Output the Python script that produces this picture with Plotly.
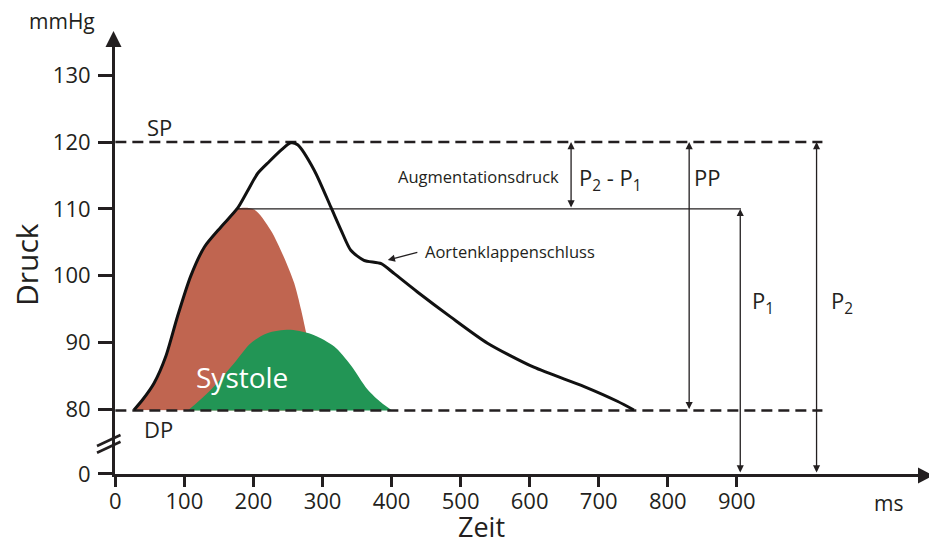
import plotly.graph_objects as go

# ---------------- data ----------------
# aortic pressure curve (ms, mmHg)
curve_t = [27, 40, 56, 73, 90, 109, 129, 153, 177, 191, 206, 223, 240, 254, 264, 288, 312, 327, 341, 360, 385, 404, 437, 486, 539, 606, 679, 727, 751]
curve_p = [79.9, 81.5, 83.9, 87.9, 93.9, 99.9, 104.3, 107.3, 110.1, 112.6, 115.3, 117.1, 118.8, 119.9, 119.6, 115.8, 110.3, 106.8, 103.8, 102.3, 101.8, 100.3, 97.6, 93.8, 89.9, 86.3, 83.4, 81.2, 79.9]

# forward (red) wave outline
red_t = [27, 40, 56, 73, 90, 109, 129, 153, 177, 201, 225, 244, 259, 269, 276, 285, 295, 300]
red_p = [79.9, 81.5, 83.9, 87.9, 93.9, 99.9, 104.3, 107.3, 110.0, 109.9, 106.8, 102.8, 98.9, 94.9, 91.6, 87.0, 82.0, 79.8]

# systole (green) outline
green_t = [105, 138, 172, 196, 220, 254, 288, 317, 341, 365, 385, 401]
green_p = [79.8, 82.9, 86.9, 89.9, 91.4, 91.9, 91.1, 89.4, 86.6, 83.0, 81.0, 79.8]

SP = 120.0
DP = 79.8
P1_level = 110.0
ref_line_end = 1024      # ms where SP / DP dashed lines end
p1_line_start, p1_line_end = 177, 906

aug_x, pp_x, p1_x, p2_x = 660, 831, 905, 1015.5

y_bottom = 70.31
y_top = 134.54
x_left, x_right = -0.5, 1165.3

x_ticks = [0, 100, 200, 300, 400, 500, 600, 700, 800, 900]
x_ticktext = [str(v) for v in x_ticks]
y_tickvals = [70.32, 80, 90, 100, 110, 120, 130]
y_ticktext = ["0", "80", "90", "100", "110", "120", "130"]

RED = "rgb(192,101,80)"
GREEN = "rgb(34,149,85)"
INK = "#231F20"
FONT = "Open Sans"

# layout geometry
L, R, T, B = 115, 9, 45, 73
W, H = 929, 547
PW, PH = W - L - R, H - T - B


def px(xp):
    return (xp - L) / PW


def py(yp):
    return (H - B - yp) / PH


fig = go.Figure()

fig.add_trace(go.Scatter(x=red_t, y=red_p, mode="lines", fill="toself", fillcolor=RED,
                         line=dict(width=0, shape="spline", smoothing=0.8, color=RED), hoverinfo="skip"))
fig.add_trace(go.Scatter(x=green_t, y=green_p, mode="lines", fill="toself", fillcolor=GREEN,
                         line=dict(width=0, shape="spline", smoothing=0.8, color=GREEN), hoverinfo="skip"))

# reference lines
fig.add_trace(go.Scatter(x=[0, ref_line_end], y=[SP, SP], mode="lines",
                         line=dict(color=INK, width=2.5, dash="11px,6px"), hoverinfo="skip"))
fig.add_trace(go.Scatter(x=[0, ref_line_end], y=[DP, DP], mode="lines",
                         line=dict(color=INK, width=2.5, dash="11px,6px"), hoverinfo="skip"))
fig.add_trace(go.Scatter(x=[p1_line_start, p1_line_end], y=[P1_level, P1_level], mode="lines",
                         line=dict(color=INK, width=1.4), hoverinfo="skip"))

# pressure curve
fig.add_trace(go.Scatter(x=curve_t, y=curve_p, mode="lines",
                         line=dict(color="#111111", width=3, shape="spline", smoothing=0.7), hoverinfo="skip"))

annotations = []


def darrow(x, y0, y1):
    annotations.append(dict(x=x, y=y1, ax=x, ay=y0, xref="x", yref="y", axref="x", ayref="y",
                            text="", showarrow=True, arrowside="end+start", arrowhead=2, startarrowhead=2,
                            arrowsize=1.1, startarrowsize=1.1, arrowwidth=1.3, arrowcolor=INK,
                            standoff=0, startstandoff=0))


darrow(aug_x, P1_level, SP)
darrow(pp_x, DP, SP)
darrow(p1_x, y_bottom, P1_level)
darrow(p2_x, y_bottom, SP)

# Aortenklappenschluss arrow
annotations.append(dict(x=394.6, y=102.35, ax=439.5, ay=103.55, xref="x", yref="y", axref="x", ayref="y",
                        text="", showarrow=True, arrowhead=2, arrowsize=1.1, arrowwidth=1.3,
                        arrowcolor=INK, standoff=0))


def txt(x, y, s, size, xanchor="center", color=INK, xref="x", yref="y", angle=0, yanchor="middle"):
    annotations.append(dict(x=x, y=y, text=s, xref=xref, yref=yref, showarrow=False,
                            xanchor=xanchor, yanchor=yanchor, textangle=angle,
                            font=dict(family=FONT, size=size, color=color)))


txt(64.4, 122.26, "SP", 22)
txt(63, 77.05, "DP", 22)
txt(183, 84.8, "Systole", 28, color="white")
txt(526, 114.8, "Augmentationsdruck", 16.5)
txt(668, 114.5, "P<sub>2</sub> - P<sub>1</sub>", 22, xanchor="left")
txt(445, 103.6, "Aortenklappenschluss", 16.5, xanchor="left")
txt(835, 114.8, "PP", 22, xanchor="left")
txt(919, 96.0, "P<sub>1</sub>", 22, xanchor="left")
txt(1034, 96.0, "P<sub>2</sub>", 22, xanchor="left")

txt(px(62), py(21), "mmHg", 21, xref="paper", yref="paper")
txt(px(26), py(265), "Druck", 30, xref="paper", yref="paper", angle=-90)
txt(px(481), py(547), "Zeit", 27, xref="paper", yref="paper", yanchor="bottom")
txt(px(888), py(503), "ms", 21, xref="paper", yref="paper")

shapes = []
# axis arrowheads
ya_x = L - 1.5
xa_y = H - B + 1.5
shapes.append(dict(type="path", xref="paper", yref="paper",
                   path=f"M {px(ya_x)} {py(31)} L {px(ya_x - 8)} {py(47)} L {px(ya_x + 8)} {py(47)} Z",
                   fillcolor=INK, line=dict(width=0)))
shapes.append(dict(type="path", xref="paper", yref="paper",
                   path=f"M {px(933)} {py(xa_y)} L {px(918)} {py(xa_y - 8)} L {px(918)} {py(xa_y + 8)} Z",
                   fillcolor=INK, line=dict(width=0)))
# axis break marks
for off in (0, 6.7):
    shapes.append(dict(type="line", xref="paper", yref="paper",
                       x0=px(97), y0=py(446 + off), x1=px(120.5), y1=py(435 + off),
                       line=dict(color=INK, width=2.6)))

fig.update_layout(
    width=W, height=H,
    margin=dict(l=L, r=R, t=T, b=B),
    plot_bgcolor="white", paper_bgcolor="white",
    showlegend=False,
    annotations=annotations,
    shapes=shapes,
    xaxis=dict(range=[x_left, x_right], showgrid=False, zeroline=False,
               showline=True, linecolor=INK, linewidth=3,
               ticks="outside", ticklen=10, tickwidth=3, tickcolor=INK,
               tickvals=x_ticks, ticktext=x_ticktext, ticklabelstandoff=-4,
               tickfont=dict(family=FONT, size=22, color=INK)),
    yaxis=dict(range=[y_bottom, y_top], showgrid=False, zeroline=False,
               showline=True, linecolor=INK, linewidth=3,
               ticks="outside", ticklen=14, tickwidth=3, tickcolor=INK,
               tickvals=y_tickvals, ticktext=y_ticktext, ticklabelstandoff=3,
               tickfont=dict(family=FONT, size=22, color=INK)),
)

fig.write_html("out.html")
